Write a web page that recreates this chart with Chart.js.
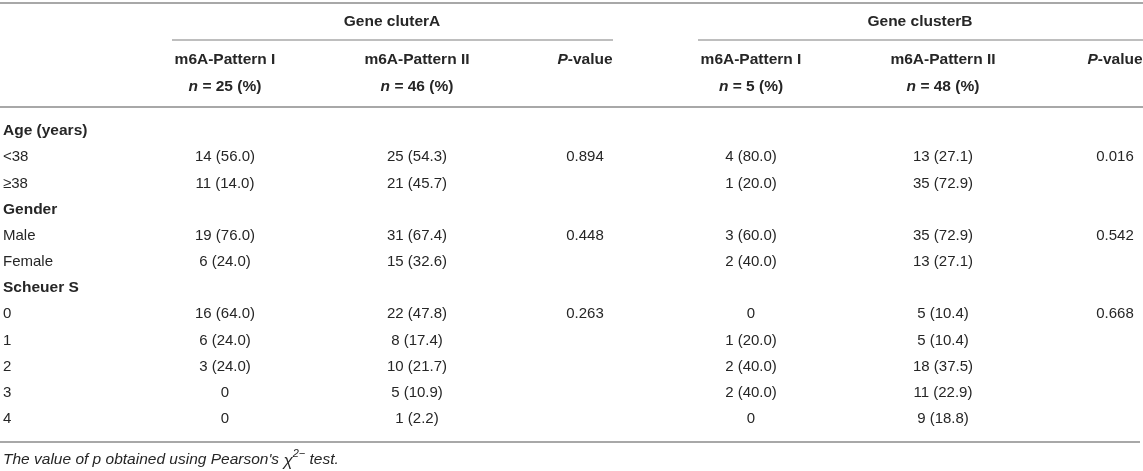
<!DOCTYPE html>
<html>
<head>
<meta charset="utf-8">
<script src="https://cdn.jsdelivr.net/npm/chart.js@4.4.1/dist/chart.umd.min.js"></script>
<style>
    html, body { margin: 0; padding: 0; background: #fff; }
    #wrap { width: 1143px; height: 471px; }
</style>
</head>
<body>
<div id="wrap"><canvas id="tableChart"></canvas></div>
<script>
// table data
const rowLabels = ['Age (years)', '<38', '\u226538', 'Gender', 'Male', 'Female', 'Scheuer S', '0', '1', '2', '3', '4'];
const groupRows = ['Age (years)', 'Gender', 'Scheuer S'];
const clusterNames = ['Gene cluterA', 'Gene clusterB'];
const patternNames = ['m6A-Pattern I', 'm6A-Pattern II'];
const groupSizes = [25, 46, 5, 48];

const aPattern1Counts = [null, 14, 11, null, 19, 6, null, 16, 6, 3, 0, 0];
const aPattern1Pct    = [null, 56.0, 14.0, null, 76.0, 24.0, null, 64.0, 24.0, 24.0, 0, 0];
const aPattern2Counts = [null, 25, 21, null, 31, 15, null, 22, 8, 10, 5, 1];
const aPattern2Pct    = [null, 54.3, 45.7, null, 67.4, 32.6, null, 47.8, 17.4, 21.7, 10.9, 2.2];
const aPValues        = [null, 0.894, null, null, 0.448, null, null, 0.263, null, null, null, null];

const bPattern1Counts = [null, 4, 1, null, 3, 2, null, 0, 1, 2, 2, 0];
const bPattern1Pct    = [null, 80.0, 20.0, null, 60.0, 40.0, null, 0, 20.0, 40.0, 40.0, 0];
const bPattern2Counts = [null, 13, 35, null, 35, 13, null, 5, 5, 18, 11, 9];
const bPattern2Pct    = [null, 27.1, 72.9, null, 72.9, 27.1, null, 10.4, 10.4, 37.5, 22.9, 18.8];
const bPValues        = [null, 0.016, null, null, 0.542, null, null, 0.668, null, null, null, null];

// layout (x scale runs 0..1143)
const colCentres = [225, 417, 585, 751, 943, 1115];
const TEXT = '#262626';
const RULE = '#a8a8a8';
const FONT = '"Liberation Sans", Arial, sans-serif';

function cellText(n, pct) {
    return n === 0 ? '0' : `${n} (${pct.toFixed(1)})`;
}

function countPoints(colX, counts, pcts) {
    const pts = [];
    counts.forEach((n, i) => {
        if (n === null) return;
        pts.push({ x: colX, y: rowLabels[i], text: cellText(n, pcts[i]) });
    });
    return pts;
}

function pPoints(colX, values) {
    const pts = [];
    values.forEach((v, i) => {
        if (v === null) return;
        pts.push({ x: colX, y: rowLabels[i], text: v.toFixed(3) });
    });
    return pts;
}

// draw a list of [text, font, yShift] runs, centred or left aligned
function drawRuns(ctx, runs, x, y, align) {
    let total = 0;
    runs.forEach(r => { ctx.font = r[1]; total += ctx.measureText(r[0]).width; });
    let cx = align === 'left' ? x : x - total / 2;
    runs.forEach(r => {
        ctx.font = r[1];
        ctx.fillText(r[0], cx, y + (r[2] || 0));
        cx += ctx.measureText(r[0]).width;
    });
}

function hLine(ctx, x1, x2, y, w) {
    ctx.beginPath();
    ctx.lineWidth = w;
    ctx.strokeStyle = RULE;
    ctx.moveTo(x1, y);
    ctx.lineTo(x2, y);
    ctx.stroke();
}

const tableText = {
    id: 'tableText',
    afterDatasetsDraw(chart) {
        const { ctx, chartArea: { top, bottom }, scales: { x, y } } = chart;
        const bold = `bold 15.5px ${FONT}`;
        const boldIt = `italic bold 15.5px ${FONT}`;
        const reg = `15px ${FONT}`;
        const it = `italic 15.5px ${FONT}`;
        ctx.save();
        ctx.fillStyle = TEXT;
        ctx.textBaseline = 'middle';
        ctx.textAlign = 'left';

        // rules
        hLine(ctx, x.getPixelForValue(0), x.getPixelForValue(1143), top - 115, 2);
        hLine(ctx, x.getPixelForValue(172), x.getPixelForValue(613), top - 78, 1.5);
        hLine(ctx, x.getPixelForValue(698), x.getPixelForValue(1143), top - 78, 1.5);
        hLine(ctx, x.getPixelForValue(0), x.getPixelForValue(1143), top - 11, 2);
        hLine(ctx, x.getPixelForValue(0), x.getPixelForValue(1140), bottom + 10, 2);

        // header
        drawRuns(ctx, [[clusterNames[0], bold]], x.getPixelForValue(392), top - 96);
        drawRuns(ctx, [[clusterNames[1], bold]], x.getPixelForValue(920), top - 96);
        [0, 1, 3, 4].forEach((c, k) => {
            const cx = x.getPixelForValue(colCentres[c]);
            drawRuns(ctx, [[patternNames[k % 2], bold]], cx, top - 58);
            drawRuns(ctx, [['n', boldIt], [` = ${groupSizes[k]} (%)`, bold]], cx, top - 31);
        });
        [2, 5].forEach(c => {
            drawRuns(ctx, [['P', boldIt], ['-value', bold]], x.getPixelForValue(colCentres[c]), top - 58);
        });

        // row labels
        rowLabels.forEach((lab, i) => {
            const isGroup = groupRows.includes(lab);
            drawRuns(ctx, [[lab, isGroup ? bold : reg]], 3, y.getPixelForValue(i), 'left');
        });

        // cells
        chart.data.datasets.forEach((ds, di) => {
            const meta = chart.getDatasetMeta(di);
            meta.data.forEach((pt, i) => {
                drawRuns(ctx, [[ds.data[i].text, reg]], pt.x, pt.y);
            });
        });

        // footnote
        const fy = bottom + 28;
        const sup = `italic 11px ${FONT}`;
        drawRuns(ctx, [
            ["The value of p obtained using Pearson's ", it],
            ['\u03c7', `italic 17px ${FONT}`, 1],
            ['2\u2212', sup, -6],
            [' test.', it]
        ], 3, fy, 'left');
        ctx.restore();
    }
};

const pointStyle = { showLine: false, pointRadius: 0, pointHoverRadius: 0 };

new Chart(document.getElementById('tableChart'), {
    type: 'scatter',
    data: {
        datasets: [
            { label: 'A pattern I', data: countPoints(colCentres[0], aPattern1Counts, aPattern1Pct), ...pointStyle },
            { label: 'A pattern II', data: countPoints(colCentres[1], aPattern2Counts, aPattern2Pct), ...pointStyle },
            { label: 'A P-value', data: pPoints(colCentres[2], aPValues), ...pointStyle },
            { label: 'B pattern I', data: countPoints(colCentres[3], bPattern1Counts, bPattern1Pct), ...pointStyle },
            { label: 'B pattern II', data: countPoints(colCentres[4], bPattern2Counts, bPattern2Pct), ...pointStyle },
            { label: 'B P-value', data: pPoints(colCentres[5], bPValues), ...pointStyle }
        ]
    },
    options: {
        responsive: true,
        maintainAspectRatio: false,
        animation: false,
        events: [],
        layout: { padding: { top: 118, bottom: 39, left: 0, right: 0 } },
        plugins: {
            legend: { display: false },
            tooltip: { enabled: false }
        },
        scales: {
            x: { type: 'linear', min: 0, max: 1143, display: false },
            y: { type: 'category', labels: rowLabels, offset: true, display: false }
        }
    },
    plugins: [tableText]
});
</script>
</body>
</html>
